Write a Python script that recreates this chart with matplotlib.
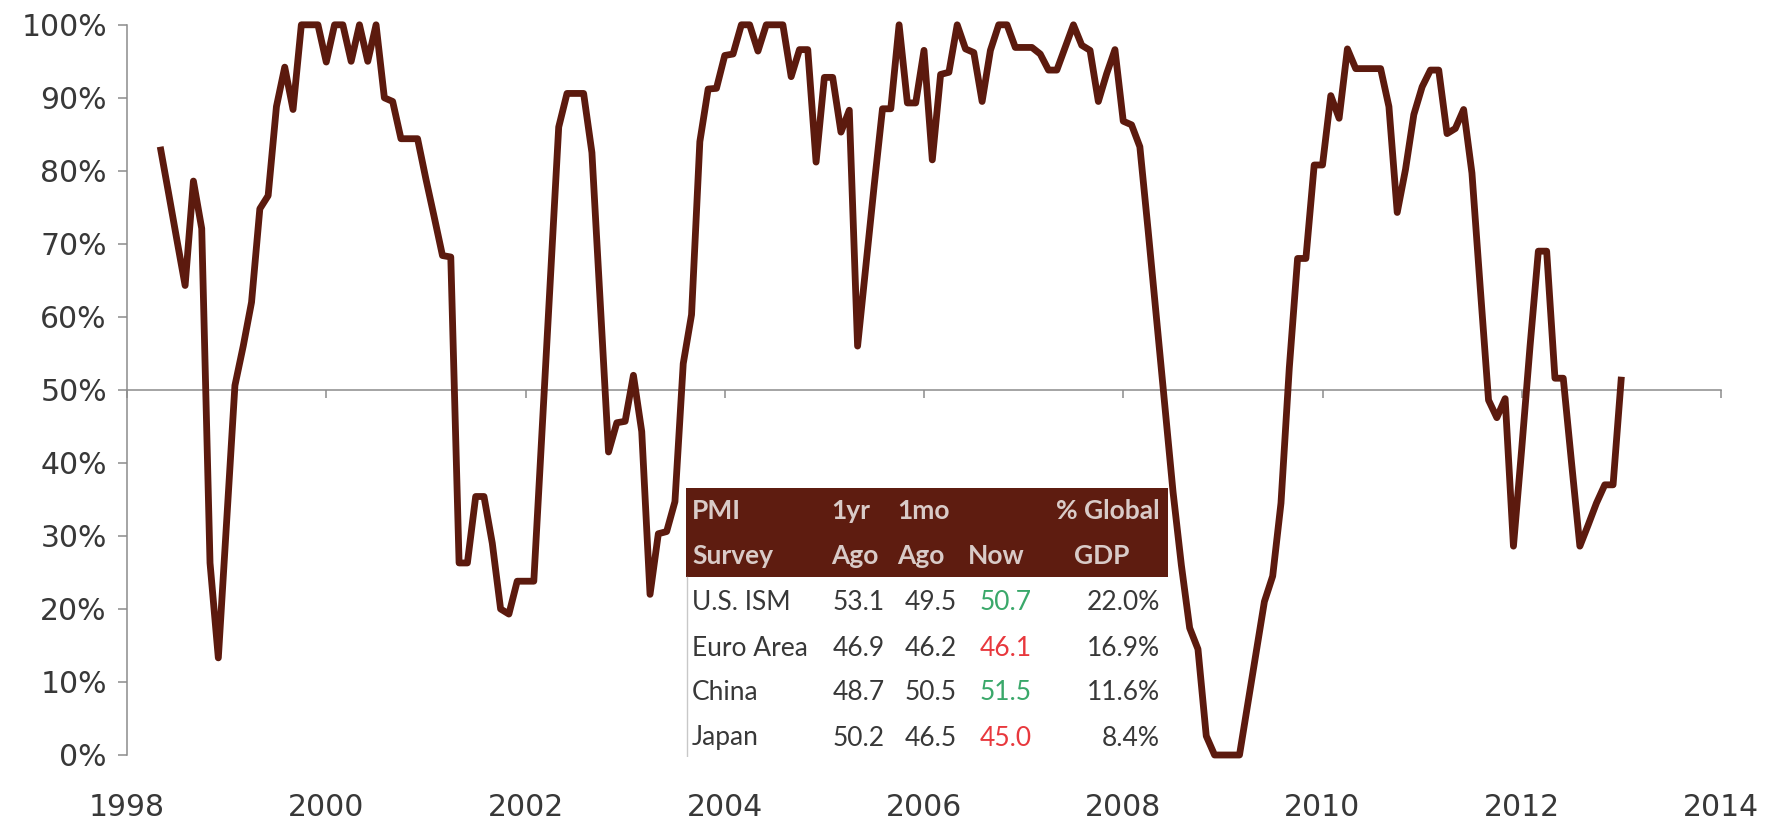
import matplotlib
matplotlib.use("Agg")
import matplotlib.pyplot as plt
from matplotlib.patches import Rectangle
import numpy as np

# ---------------------------
# data: % share, monthly, May 1998 .. Jan 2013
# ---------------------------
start_year, start_month = 1998, 5

y1998 = [83.3, 77.0, 70.6, 64.3, 78.6, 72.1, 26.3, 13.3]
y1999 = [32.0, 50.6, 56.0, 62.0, 74.8, 76.6, 88.8, 94.2, 88.4, 100, 100, 100]
y2000 = [94.9, 100, 100, 95.0, 100, 95.0, 100, 90.0, 89.5, 84.4, 84.4, 84.4]
y2001 = [78.9, 73.7, 68.4, 68.2, 26.3, 26.3, 35.4, 35.4, 29.0, 20.0, 19.3, 23.8]
y2002 = [23.8, 23.8, 44.5, 65.0, 86.0, 90.6, 90.6, 90.6, 82.5, 62.0, 41.5, 45.5]
y2003 = [45.7, 52.0, 44.3, 22.0, 30.3, 30.6, 34.7, 53.6, 60.3, 84.0, 91.2, 91.3]
y2004 = [95.8, 96.0, 100, 100, 96.4, 100, 100, 100, 92.9, 96.6, 96.6, 81.2]
y2005 = [92.8, 92.8, 85.3, 88.3, 56.0, 67.0, 78.0, 88.5, 88.5, 100, 89.3, 89.3]
y2006 = [96.5, 81.5, 93.2, 93.5, 100, 96.7, 96.2, 89.5, 96.5, 100, 100, 96.9]
y2007 = [96.9, 96.9, 96.0, 93.8, 93.8, 96.9, 100, 97.2, 96.5, 89.5, 93.3, 96.6]
y2008 = [86.8, 86.3, 83.3, 71.8, 59.9, 48.0, 36.0, 26.0, 17.4, 14.5, 2.6, 0]
y2009 = [0, 0, 0, 7.0, 14.0, 21.0, 24.5, 34.5, 53.0, 68.0, 68.0, 80.8]
y2010 = [80.8, 90.3, 87.2, 96.7, 94.0, 94.0, 94.0, 94.0, 88.8, 74.3, 80.2, 87.7]
y2011 = [91.5, 93.8, 93.8, 85.1, 85.8, 88.4, 79.7, 64.0, 48.6, 46.2, 48.8, 28.6]
y2012 = [42.0, 56.0, 69.0, 69.0, 51.6, 51.6, 40.0, 28.6, 31.5, 34.5, 37.0, 37.0]
y2013 = [51.8]

# table
surveys = ["U.S. ISM", "Euro Area", "China", "Japan"]
one_yr_ago = ["53.1", "46.9", "48.7", "50.2"]
one_mo_ago = ["49.5", "46.2", "50.5", "46.5"]
now = ["50.7", "46.1", "51.5", "45.0"]
gdp_share = ["22.0%", "16.9%", "11.6%", "8.4%"]

values = np.array(y1998 + y1999 + y2000 + y2001 + y2002 + y2003 + y2004 + y2005
                  + y2006 + y2007 + y2008 + y2009 + y2010 + y2011 + y2012 + y2013)
t = start_year + (start_month - 1 + np.arange(len(values))) / 12.0

line_col = "#5c1a0e"
axis_col = "#8c8c8c"
text_col = "#383838"

W, H = 1775, 825
fig = plt.figure(figsize=(W / 100, H / 100), dpi=100)
ax = fig.add_axes([127 / W, 70 / H, 1594 / W, 730.2 / H])

ax.plot(t, values, color=line_col, lw=4.9, clip_on=False, zorder=5,
        solid_joinstyle="round", solid_capstyle="butt")

ax.set_xlim(1998, 2014)
ax.set_ylim(0, 100)
ax.set_yticks(range(0, 101, 10))
ax.set_yticklabels([f"{v}%" for v in range(0, 101, 10)])
ax.set_xticks(range(1998, 2015, 2))

for s in ["top", "right", "bottom"]:
    ax.spines[s].set_visible(False)
ax.spines["left"].set_color(axis_col)
ax.spines["left"].set_linewidth(1.1)
ax.tick_params(axis="y", direction="out", length=6.5, width=1.1, color=axis_col,
               labelsize=21.5, labelcolor=text_col, pad=8)
ax.tick_params(axis="x", length=0, labelsize=21.5, labelcolor=text_col, pad=27)

# horizontal axis line at 50% with its own tick marks (labels stay at the bottom)
sec = ax.secondary_xaxis(0.5)
sec.set_alignment("bottom")
sec.set_xticks(range(1998, 2015, 2))
sec.tick_params(axis="x", which="both", direction="out", length=6, width=1.1,
                color=axis_col, labelbottom=False, labeltop=False)
sec.spines["bottom"].set_color(axis_col)
sec.spines["bottom"].set_linewidth(1.1)

# ---------------------------
# PMI table
# ---------------------------
x0, x1, y0, y1 = 686, 1168, 488, 757
tab = fig.add_axes([x0 / W, (H - y1) / H, (x1 - x0) / W, (y1 - y0) / H], zorder=10)
tab.set_xlim(x0, x1)
tab.set_ylim(y1, y0)
tab.set_xticks([])
tab.set_yticks([])
for s in tab.spines.values():
    s.set_visible(False)
tab.set_facecolor("white")

head_bg = "#5e1c10"
head_txt = "#d9cbc8"
tab.add_patch(Rectangle((x0, y0), x1 - x0, 89, color=head_bg, lw=0))
tab.plot([x0 + 1, x0 + 1], [577, y1], color="#c8c8c8", lw=1)

fs = 19
hk = dict(fontsize=fs, family="Lato", fontweight="bold", color=head_txt, va="center")
tab.text(692, 511, "PMI", ha="left", **hk)
tab.text(692, 556, "Survey", ha="left", **hk)
tab.text(831, 511, "1yr", ha="left", **hk)
tab.text(831, 556, "Ago", ha="left", **hk)
tab.text(897, 511, "1mo", ha="left", **hk)
tab.text(897, 556, "Ago", ha="left", **hk)
tab.text(968, 556, "Now", ha="left", **hk)
tab.text(1160, 511, "% Global", ha="right", **hk)
tab.text(1102, 556, "GDP", ha="center", **hk)

bk = dict(fontsize=fs, family="Lato", va="center")
for i, name in enumerate(surveys):
    yy = 603 + i * 45
    tab.text(692, yy, name, ha="left", color=text_col, **bk)
    tab.text(885, yy, one_yr_ago[i], ha="right", color=text_col, **bk)
    tab.text(957, yy, one_mo_ago[i], ha="right", color=text_col, **bk)
    c = "#3aa86a" if float(now[i]) > float(one_mo_ago[i]) else "#e8383d"
    tab.text(1032, yy, now[i], ha="right", color=c, **bk)
    tab.text(1160, yy, gdp_share[i], ha="right", color=text_col, **bk)

fig.savefig("out.png", dpi=100)
